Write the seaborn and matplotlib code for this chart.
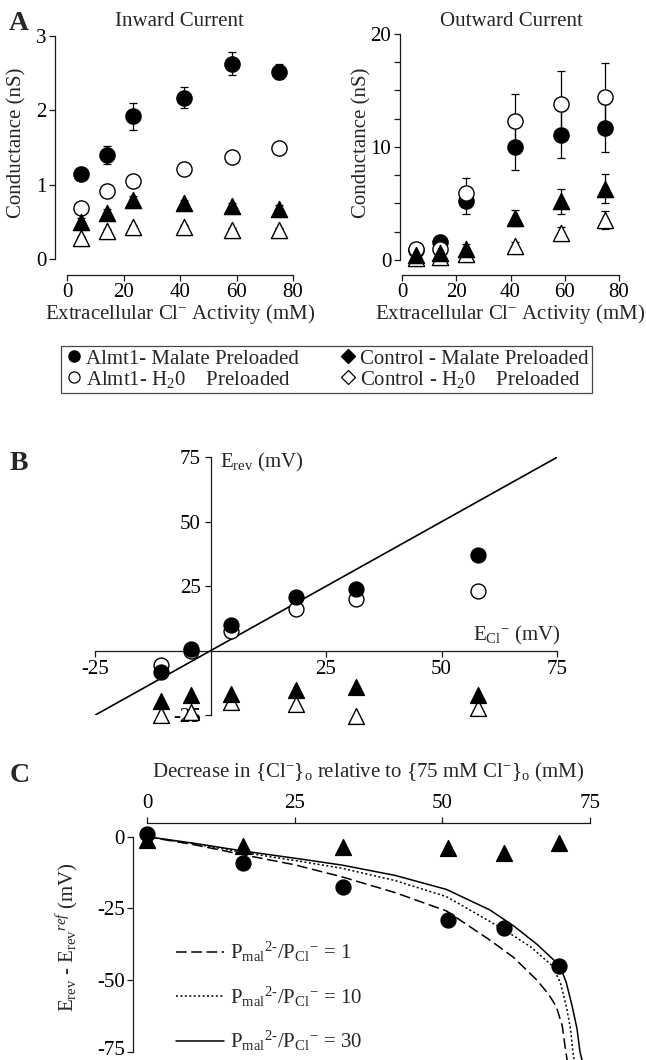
import matplotlib
matplotlib.use("Agg")
import matplotlib.pyplot as plt
import matplotlib.transforms as mtransforms
import seaborn as sns
from matplotlib.lines import Line2D

# ---------------- Panel A data ----------------
cl_activity = [5, 14, 23.5, 41.5, 58.5, 75]

in_almt_mal = [1.14, 1.40, 1.92, 2.17, 2.63, 2.52]
in_almt_mal_err = [0.08, 0.12, 0.18, 0.14, 0.15, 0.10]
in_almt_h2o = [0.68, 0.92, 1.05, 1.21, 1.37, 1.50]
in_almt_h2o_err = [0.04, 0.07, 0.05, 0.04, 0.04, 0.04]
in_ctrl_mal = [0.50, 0.62, 0.80, 0.76, 0.71, 0.67]
in_ctrl_mal_err = [0.05, 0.05, 0.05, 0.04, 0.05, 0.06]
in_ctrl_h2o = [0.28, 0.37, 0.43, 0.43, 0.39, 0.39]
in_ctrl_h2o_err = [0.03, 0.03, 0.03, 0.03, 0.03, 0.03]

out_almt_mal = [0.90, 1.60, 5.20, 10.0, 11.1, 11.7]
out_almt_mal_err = [0.2, 0.2, 1.1, 2.0, 2.1, 2.1]
out_almt_h2o = [0.95, 1.00, 5.95, 12.3, 13.8, 14.4]
out_almt_h2o_err = [0.2, 0.2, 1.3, 2.4, 2.9, 3.0]
out_ctrl_mal = [0.45, 0.60, 1.00, 3.70, 5.20, 6.30]
out_ctrl_mal_err = [0.1, 0.2, 0.4, 0.7, 1.1, 1.3]
out_ctrl_h2o = [0.15, 0.30, 0.50, 1.25, 2.35, 3.50]
out_ctrl_h2o_err = [0.05, 0.1, 0.2, 0.3, 0.6, 0.8]

legend_labels = ["Almt1- Malate Preloaded",
                 "Almt1- H$_2$0    Preloaded",
                 "Control - Malate Preloaded",
                 "Control - H$_2$0    Preloaded"]

# ---------------- Panel B data ----------------
e_cl = [-10.75, -4.25, 4.4, 18.5, 31.6, 57.8]
b_almt_mal = [-8.2, 0.5, 10.0, 21.0, 24.0, 37.0]
b_almt_h2o = [-5.6, 0.0, 7.8, 16.0, 20.0, 23.0]
b_ctrl_mal = [-19.5, -17.2, -16.6, -15.3, -14.0, -17.2]
b_ctrl_h2o = [-24.8, -23.7, -19.8, -20.5, -25.4, -22.4]
identity_x = [-25, 75]
identity_y = [-25, 75]

# ---------------- Panel C data ----------------
c_decrease = [0, 16.3, 33.2, 51.0, 60.5, 69.8]
c_almt_mal = [0.8, -9.3, -17.4, -29.0, -32.0, -45.1]
c_ctrl_mal = [-1.0, -3.3, -3.5, -4.0, -5.6, -2.1]

p1_x = [0, 8, 16.3, 25, 33, 42, 50.7, 58, 62, 66, 68, 69.3, 70.3, 70.9, 71.3]
p1_y = [0, -2.8, -6.3, -9.8, -14.0, -19.5, -25.9, -36.0, -42.0, -50.0, -55.0, -59.3, -66.0, -75.0, -80.0]
p10_x = [0, 8, 16.3, 25, 33, 42, 50.7, 58, 62, 65, 68.6, 70.0, 71.0, 71.7, 72.1, 72.5]
p10_y = [0, -2.5, -5.5, -8.3, -11.0, -15.3, -20.9, -29.5, -34.5, -38.5, -45.0, -51.0, -59.3, -67.0, -75.0, -80.0]
p30_x = [0, 8, 16.3, 25, 33, 42, 50.7, 58, 62, 66, 69.9, 71.0, 72.0, 72.8, 73.3, 73.9]
p30_y = [0, -2.3, -5.0, -7.5, -9.9, -13.5, -18.4, -25.5, -31.0, -37.5, -45.0, -51.0, -59.3, -67.0, -75.0, -80.0]
c_labels = [r"P$_{\mathrm{mal}}$$^{\mathrm{2\text{-}}}$/P$_{\mathrm{Cl}}$$^{-}$ = 1",
            r"P$_{\mathrm{mal}}$$^{\mathrm{2\text{-}}}$/P$_{\mathrm{Cl}}$$^{-}$ = 10",
            r"P$_{\mathrm{mal}}$$^{\mathrm{2\text{-}}}$/P$_{\mathrm{Cl}}$$^{-}$ = 30"]

# ---------------- style ----------------
sns.set_theme(style="ticks")
plt.rcParams["font.family"] = ["Liberation Serif", "DejaVu Serif"]
plt.rcParams["mathtext.fontset"] = "custom"
plt.rcParams["mathtext.rm"] = "Liberation Serif"
plt.rcParams["mathtext.it"] = "Liberation Serif:italic"
plt.rcParams["mathtext.bf"] = "Liberation Serif:bold"
plt.rcParams["axes.unicode_minus"] = False
FS = 15
INK = "#1a1a1a"

W, H = 646, 1060
fig = plt.figure(figsize=(W / 100, H / 100), dpi=100)
fig.patch.set_facecolor("white")


def add_ax(x0, x1, y0, y1):
    ax = fig.add_axes([x0 / W, 1 - y1 / H, (x1 - x0) / W, (y1 - y0) / H])
    ax.set_facecolor("none")
    for s in ax.spines.values():
        s.set_color(INK)
        s.set_linewidth(0.9)
    ax.tick_params(which="both", direction="out", length=4, width=0.9,
                   color=INK, labelsize=FS, pad=2, labelcolor="black")
    ax.grid(False)
    return ax


def fig_xy(xpx, ypx):
    return xpx / W, 1 - ypx / H


def scatter(ax, x, y, marker, filled, s, z):
    sns.scatterplot(x=x, y=y, marker=marker, s=s,
                    color=("black" if filled else "white"),
                    edgecolor="black", linewidth=1.0, ax=ax,
                    zorder=z, clip_on=False, legend=False)


def panel_a(ax, series):
    for y, err, m, f in series:
        ax.errorbar(cl_activity, y, yerr=err, fmt="none", ecolor="black",
                    elinewidth=0.9, capsize=3, capthick=0.9, zorder=2,
                    clip_on=False)
    for i, (y, err, m, f) in enumerate(series):
        scatter(ax, cl_activity, y, m, f, 120 if m == "o" else 135, 3 + i)
    ax.spines["top"].set_visible(False)
    ax.spines["right"].set_visible(False)
    ax.set_xlim(0, 80)
    ax.set_xticks([0, 20, 40, 60, 80])
    ax.set_xlabel("Extracellular Cl$^{-}$ Activity (mM)", fontsize=FS)
    ax.set_ylabel("Conductance (nS)", fontsize=FS)


# ---- Panel A left ----
axl = add_ax(67, 293, 36, 259)
panel_a(axl, [(in_almt_mal, in_almt_mal_err, "o", True),
              (in_almt_h2o, in_almt_h2o_err, "o", False),
              (in_ctrl_h2o, in_ctrl_h2o_err, "^", False),
              (in_ctrl_mal, in_ctrl_mal_err, "^", True)])
axl.set_ylim(0, 3)
axl.set_yticks([0, 1, 2, 3])
axl.spines["left"].set_position(("outward", 8.6))
axl.spines["bottom"].set_position(("outward", 11.5))
axl.xaxis.set_label_coords(*fig_xy(180, 314), transform=fig.transFigure)
axl.xaxis.label.set_va("center")
axl.yaxis.set_label_coords(*fig_xy(17, 143), transform=fig.transFigure)
axl.yaxis.label.set_va("center")

# ---- Panel A right ----
axr = add_ax(402, 619, 34, 260)
panel_a(axr, [(out_almt_mal, out_almt_mal_err, "o", True),
              (out_almt_h2o, out_almt_h2o_err, "o", False),
              (out_ctrl_h2o, out_ctrl_h2o_err, "^", False),
              (out_ctrl_mal, out_ctrl_mal_err, "^", True)])
axr.set_ylim(0, 20)
axr.set_yticks([0, 10, 20])
axr.set_yticks([2.5, 5, 7.5, 12.5, 15, 17.5], minor=True)
axr.spines["left"].set_position(("outward", 1.8))
axr.spines["bottom"].set_position(("outward", 10.8))
axr.xaxis.set_label_coords(*fig_xy(510, 314), transform=fig.transFigure)
axr.xaxis.label.set_va("center")
axr.yaxis.set_label_coords(*fig_xy(362, 143), transform=fig.transFigure)
axr.yaxis.label.set_va("center")

fig.text(*fig_xy(179, 21), "Inward Current", fontsize=FS, ha="center", va="center")
fig.text(*fig_xy(511, 21), "Outward Current", fontsize=FS, ha="center", va="center")
fig.text(*fig_xy(19, 23), "A", fontsize=20, fontweight="bold", ha="center", va="center")

# ---- Legend for A ----
handles = [Line2D([], [], ls="none", marker="o", ms=8, mfc="black", mec="black"),
           Line2D([], [], ls="none", marker="o", ms=8, mfc="white", mec="black", mew=0.9),
           Line2D([], [], ls="none", marker="D", ms=7, mfc="black", mec="black"),
           Line2D([], [], ls="none", marker="D", ms=7, mfc="white", mec="black", mew=0.9)]
x0, _ = fig_xy(61, 0)
x1, ytop = fig_xy(592, 346)
leg = fig.legend(handles, legend_labels, ncol=2, loc="upper left",
                 bbox_to_anchor=(x0, ytop - 0.05, x1 - x0, 0.05), mode="expand",
                 fontsize=15, frameon=True, fancybox=False, borderpad=0.15,
                 labelspacing=0.0, handletextpad=0.15, handlelength=0.9,
                 columnspacing=0.8, borderaxespad=0)
leg.get_frame().set_edgecolor(INK)
leg.get_frame().set_linewidth(0.9)

# ---- Panel B ----
axb = add_ax(95, 557, 457.3, 715.2)
sns.lineplot(x=identity_x, y=identity_y, color="black", lw=1.2, ax=axb,
             sort=False, estimator=None, zorder=2)
scatter(axb, e_cl, b_almt_h2o, "o", False, 115, 3)
scatter(axb, e_cl, b_almt_mal, "o", True, 115, 4)
scatter(axb, e_cl, b_ctrl_h2o, "^", False, 130, 5)
scatter(axb, e_cl, b_ctrl_mal, "^", True, 130, 6)
axb.set_xlim(-25, 75)
axb.set_ylim(-25, 75)
axb.spines["left"].set_position(("data", 0))
axb.spines["bottom"].set_position(("data", 0))
axb.spines["top"].set_visible(False)
axb.spines["right"].set_visible(False)
axb.set_xticks([-25, 25, 50, 75])
axb.set_yticks([-25, 25, 50, 75])
axb.tick_params(axis="x", pad=3)
axb.tick_params(axis="y", pad=3)
axb.text(2.0, 73.0, r"E$_{\mathrm{rev}}$ (mV)", fontsize=FS, ha="left", va="center")
axb.text(75.8, 6.0, r"E$_{\mathrm{Cl}}$$^{-}$ (mV)", fontsize=FS, ha="right", va="center")
fig.text(*fig_xy(19, 463), "B", fontsize=20, fontweight="bold", ha="center", va="center")

# ---- Panel C ----
axc = add_ax(147, 590, 836.7, 1060)
styles = [(p1_x, p1_y, (0, (7, 3))), (p10_x, p10_y, (0, (1.3, 1.6))), (p30_x, p30_y, "-")]
lines = []
for (cx, cy, ls), lab in zip(styles, c_labels):
    sns.lineplot(x=cx, y=cy, color="black", lw=1.1, ax=axc, sort=False,
                 estimator=None, zorder=2)
    ln = axc.lines[-1]
    ln.set_linestyle(ls)
    lines.append(ln)
scatter(axc, c_decrease, c_ctrl_mal, "^", True, 130, 4)
scatter(axc, c_decrease, c_almt_mal, "o", True, 115, 5)
axc.set_xlim(0, 75)
axc.set_ylim(-77.9, 0)
axc.xaxis.tick_top()
axc.xaxis.set_label_position("top")
axc.spines["bottom"].set_visible(False)
axc.spines["right"].set_visible(False)
axc.spines["top"].set_position(("outward", 10))
axc.spines["left"].set_position(("outward", 10))
axc.spines["left"].set_bounds(-75, 0)
axc.set_xticks([0, 25, 50, 75])
axc.set_yticks([0, -25, -50, -75])
axc.tick_params(axis="x", pad=3)
last = axc.yaxis.get_major_ticks()[-1]
last.label1.set_transform(last.label1.get_transform() +
                          mtransforms.ScaledTranslation(0, 2.5 / 72, fig.dpi_scale_trans))
axc.set_xlabel(r"Decrease in {Cl$^{-}$}$_{\mathrm{o}}$ relative to {75 mM Cl$^{-}$}$_{\mathrm{o}}$ (mM)",
               fontsize=FS)
axc.xaxis.set_label_coords(*fig_xy(368, 772), transform=fig.transFigure)
axc.xaxis.label.set_va("center")
axc.set_ylabel(r"E$_{\mathrm{rev}}$ - E$_{\mathrm{rev}}$$^{\mathit{ref}}$ (mV)", fontsize=FS)
axc.yaxis.set_label_coords(*fig_xy(68, 937), transform=fig.transFigure)
axc.yaxis.label.set_va("center")
lx, ly = fig_xy(176, 940)
legc = fig.legend(lines, c_labels, loc="upper left", bbox_to_anchor=(lx, ly),
                  frameon=False, fontsize=FS, handlelength=2.3, handletextpad=0.3,
                  labelspacing=0.98, borderpad=0, borderaxespad=0)
fig.text(*fig_xy(20, 776), "C", fontsize=20, fontweight="bold", ha="center", va="center")

fig.savefig("out.png", dpi=100, facecolor="white")
